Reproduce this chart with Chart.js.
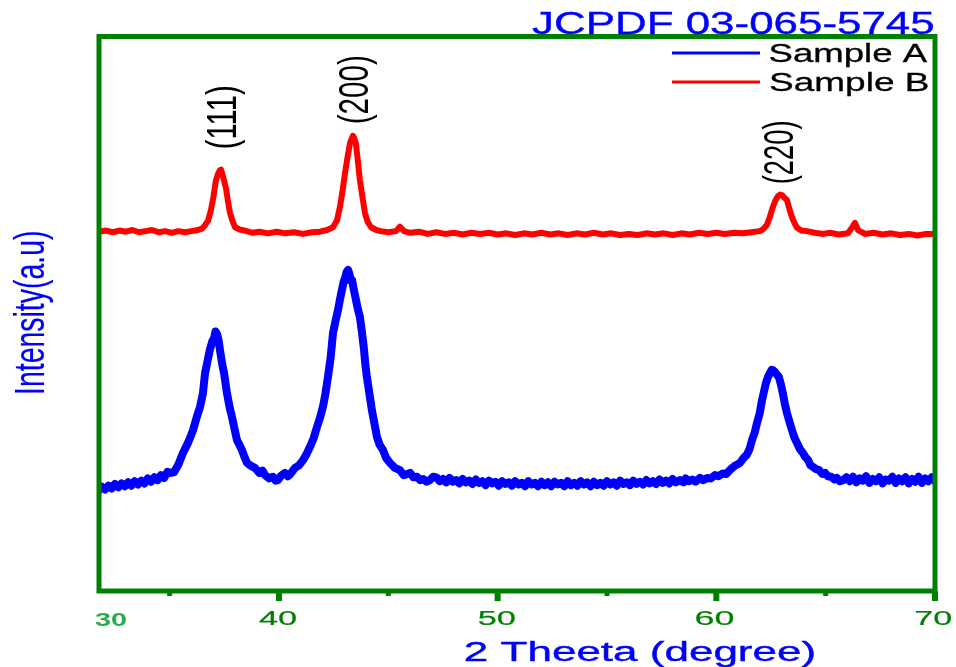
<!DOCTYPE html>
<html>
<head>
<meta charset="utf-8">
<script src="https://cdn.jsdelivr.net/npm/chart.js@4.4.1/dist/chart.umd.min.js"></script>
<style>
  body { margin: 0; background: #fff; }
  canvas { display: block; }
</style>
</head>
<body>
<canvas id="xrd" width="956" height="667"></canvas>
<script>
// [2 theta (degree), intensity (a.u.)]
var sampleA = [
  [31.77,18.2],[31.9,18.8],[32.05,18.3],[32.2,19.0],[32.35,18.5],[32.5,19.3],[32.65,18.7],[32.8,19.4],
  [32.95,18.9],[33.1,19.6],[33.25,19.0],[33.4,19.8],[33.55,19.2],[33.7,19.9],[33.85,19.4],[34.0,20.3],
  [34.15,19.7],[34.3,20.5],[34.45,20.0],[34.6,20.9],[34.75,20.4],[34.9,21.5],[35.05,21.3],[35.2,21.4],
  [35.4,22.8],[35.61,24.9],[35.85,26.8],[36.07,29.0],[36.25,31.5],[36.39,33.2],[36.52,35.6],[36.62,39.3],
  [36.75,41.8],[36.84,43.5],[36.95,45.0],[37.03,45.6],[37.10,46.8],[37.17,46.3],[37.24,45.2],[37.30,43.5],
  [37.40,41.0],[37.49,39.3],[37.62,35.7],[37.75,33.0],[37.85,31.4],[37.97,29.2],[38.08,27.2],[38.2,26.3],
  [38.31,25.4],[38.42,24.2],[38.54,23.1],[38.7,22.6],[38.9,22.2],[39.1,21.3],[39.25,21.7],[39.36,20.9],
  [39.55,20.3],[39.73,20.6],[39.85,19.9],[39.95,20.0],[40.1,20.8],[40.27,21.3],[40.4,20.7],[40.5,21.0],
  [40.73,22.2],[40.9,22.6],[41.10,23.6],[41.25,24.6],[41.42,26.0],[41.58,27.5],[41.74,29.6],[41.88,31.3],
  [42.01,33.2],[42.12,35.5],[42.24,38.6],[42.36,42.0],[42.47,46.5],[42.58,48.6],[42.70,50.7],[42.80,52.8],
  [42.88,54.3],[42.96,55.8],[43.02,56.4],[43.10,57.6],[43.16,57.9],[43.22,57.2],[43.28,56.0],[43.34,56.1],
  [43.43,54.2],[43.52,52.5],[43.61,50.8],[43.70,49.4],[43.80,46.5],[43.89,43.5],[43.95,40.8],[44.02,38.6],
  [44.12,36.0],[44.25,32.6],[44.36,30.3],[44.48,27.8],[44.6,26.4],[44.76,25.4],[44.9,24.0],[45.08,23.1],
  [45.3,22.2],[45.53,21.8],[45.7,20.9],[45.8,21.0],[46.0,21.3],[46.15,20.5],[46.31,20.6],[46.45,20.0],
  [46.6,20.2],[46.75,19.7],[46.90,20.0],[47.05,20.6],
  [47.2,20.5],[47.35,19.8],[47.5,20.2],[47.65,19.6],[47.8,20.4],[47.95,19.7],[48.1,20.0],[48.25,19.4],
  [48.4,20.2],[48.55,19.6],[48.7,19.9],[48.85,19.3],[49.0,20.1],[49.15,19.5],[49.3,19.8],[49.45,19.1],
  [49.6,19.9],[49.75,19.4],[49.9,19.7],[50.05,19.0],[50.2,19.8],[50.35,19.3],[50.5,19.6],[50.65,19.0],
  [50.8,19.8],[50.95,19.2],[51.1,19.5],[51.25,18.9],[51.4,19.8],[51.55,19.2],[51.7,19.5],[51.85,18.9],
  [52.0,19.7],[52.15,19.1],[52.3,19.6],[52.45,18.9],[52.6,19.7],[52.75,19.2],[52.9,19.5],[53.05,18.9],
  [53.2,19.8],[53.35,19.1],[53.5,19.5],[53.65,19.0],[53.8,19.8],[53.95,19.2],[54.1,19.6],[54.25,18.9],
  [54.4,19.7],[54.55,19.1],[54.7,19.5],[54.85,19.0],[55.0,19.8],[55.15,19.2],[55.3,19.6],[55.45,19.0],
  [55.6,19.9],[55.75,19.3],[55.9,19.6],[56.05,19.1],[56.2,19.9],[56.35,19.3],[56.5,19.7],[56.65,19.2],
  [56.8,20.0],[56.95,19.4],[57.1,19.8],[57.25,19.3],[57.4,20.1],[57.55,19.5],[57.7,19.9],[57.85,19.4],
  [58.0,20.2],[58.15,19.6],[58.34,20.0],[58.5,19.6],[58.6,20.3],[58.75,19.8],[58.9,20.1],[59.05,19.7],
  [59.25,20.4],[59.4,20.0],[59.6,20.4],[59.75,20.3],[59.94,20.9],[60.1,20.7],[60.3,21.2],[60.45,21.1],
  [60.62,21.8],[60.85,22.6],[61.08,23.1],[61.25,24.0],[61.40,24.6],[61.52,25.6],[61.63,27.2],[61.75,28.5],
  [61.86,30.3],[61.98,32.0],[62.09,34.4],[62.18,36.0],[62.27,37.5],[62.36,38.6],[62.45,39.3],[62.53,39.9],
  [62.6,39.8],[62.68,39.5],[62.77,39.0],[62.86,38.6],[62.95,37.3],[63.04,35.7],[63.13,33.8],[63.23,32.1],
  [63.34,30.6],[63.46,29.0],[63.58,27.6],[63.69,26.7],[63.82,25.6],[63.96,24.9],[64.08,24.1],[64.2,23.6],
  [64.3,22.7],[64.42,22.4],[64.55,22.0],[64.7,21.8],[64.85,21.1],[64.97,21.3],[65.1,20.7],[65.25,20.6],
  [65.4,20.1],[65.51,20.4],[65.65,19.8],[65.8,20.0],[65.95,20.5],[66.1,19.8],[66.25,20.6],[66.4,19.6],
  [66.55,20.3],[66.7,19.9],[66.85,20.7],[67.0,19.5],[67.15,20.2],[67.3,19.8],[67.45,20.5],[67.6,19.4],
  [67.75,20.1],[67.9,19.9],[68.05,20.6],[68.2,19.5],[68.35,20.3],[68.5,19.8],[68.65,20.5],[68.8,19.4],
  [68.95,20.2],[69.1,19.7],[69.25,20.6],[69.4,19.5],[69.55,20.3],[69.7,19.8],[69.85,20.5],[70.0,19.8]
];

var sampleB = [
  [31.77,64.8],[32.1,65.0],[32.4,64.7],[32.7,65.0],[33.0,64.8],[33.3,65.1],[33.6,64.7],[33.9,64.9],
  [34.2,65.1],[34.5,64.7],[34.8,64.9],[35.1,64.6],[35.4,64.9],[35.7,64.7],[36.0,64.9],[36.3,65.1],
  [36.5,65.4],[36.62,66.0],[36.76,66.8],[36.89,68.7],[37.00,71.0],[37.12,74.1],[37.22,75.3],[37.30,75.9],
  [37.35,76.0],[37.44,74.8],[37.58,72.6],[37.66,70.5],[37.76,68.2],[37.87,66.8],[37.99,65.6],[38.2,65.2],
  [38.45,65.0],[38.8,64.6],[39.1,64.8],[39.5,64.5],[39.9,64.8],[40.3,64.5],[40.7,64.7],[41.1,64.4],
  [41.5,64.7],[41.87,64.8],[42.2,65.1],[42.47,65.6],[42.65,66.8],[42.79,69.3],[42.92,72.5],[43.02,75.4],
  [43.14,78.3],[43.25,80.8],[43.38,82.1],[43.45,81.6],[43.52,80.6],[43.61,77.5],[43.70,74.1],[43.80,71.5],
  [43.93,68.2],[44.05,66.6],[44.21,65.6],[44.45,65.1],[44.66,64.9],[45.0,64.7],[45.35,64.9],[45.53,65.7],
  [45.72,64.9],[46.0,64.6],[46.4,64.8],[46.8,64.4],[47.2,64.7],[47.6,64.4],[48.0,64.6],[48.4,64.3],
  [48.8,64.6],[49.2,64.4],[49.6,64.6],[50.0,64.3],[50.4,64.5],[50.8,64.2],[51.2,64.5],[51.6,64.3],
  [52.0,64.6],[52.4,64.3],[52.8,64.5],[53.2,64.2],[53.6,64.5],[54.0,64.3],[54.4,64.6],[54.8,64.3],
  [55.2,64.5],[55.6,64.2],[56.0,64.4],[56.4,64.2],[56.8,64.5],[57.2,64.3],[57.6,64.5],[58.0,64.2],
  [58.4,64.5],[58.8,64.3],[59.2,64.6],[59.6,64.4],[60.0,64.6],[60.4,64.4],[60.8,64.6],[61.2,64.5],
  [61.6,64.7],[61.99,64.9],[62.15,65.3],[62.31,66.0],[62.45,67.5],[62.59,69.3],[62.72,70.6],[62.82,71.2],
  [62.92,71.5],[63.00,71.4],[63.12,70.9],[63.23,70.5],[63.35,68.8],[63.46,67.4],[63.58,66.3],[63.69,65.5],
  [63.9,65.0],[64.14,64.9],[64.5,64.6],[64.9,64.4],[65.19,64.6],[65.6,64.3],[66.02,64.5],[66.20,65.5],
  [66.34,66.4],[66.48,65.1],[66.8,64.4],[67.2,64.6],[67.6,64.3],[68.0,64.5],[68.4,64.2],[68.8,64.4],
  [69.2,64.1],[69.6,64.4],[70.0,64.4]
];

var seriesNames = ['Sample A', 'Sample B'];
var majorTicks = [40, 50, 60, 70];
var minorTicks = [35, 45, 55, 65];
var peakLabels = ['(111)', '(200)', '(220)'];
var refCard = 'JCPDF 03-065-5745';

function pts(arr) {
  return arr.map(function (p) { return { x: p[0], y: p[1] }; });
}

// draw text stretched into a given ink box (w along the text, h across it)
function fitText(ctx, txt, font, color, cx, cy, w, h, rot, heavy) {
  ctx.save();
  ctx.font = font;
  ctx.textAlign = 'left';
  ctx.textBaseline = 'alphabetic';
  var m = ctx.measureText(txt);
  var tw = m.actualBoundingBoxLeft + m.actualBoundingBoxRight;
  var th = m.actualBoundingBoxAscent + m.actualBoundingBoxDescent;
  ctx.translate(cx, cy);
  ctx.rotate(rot || 0);
  ctx.scale(w / tw, h / th);
  ctx.fillStyle = color;
  var tx = -tw / 2 + m.actualBoundingBoxLeft, ty = th / 2 - m.actualBoundingBoxDescent;
  ctx.fillText(txt, tx, ty);
  if (heavy) {
    ctx.strokeStyle = color;
    ctx.lineWidth = heavy;
    ctx.strokeText(txt, tx, ty);
  }
  ctx.restore();
}

var GREEN = '#008000';

var frame = {
  id: 'frame',
  afterDatasetsDraw: function (chart) {
    var ctx = chart.ctx, a = chart.chartArea, xs = chart.scales.x;
    ctx.save();
    ctx.strokeStyle = GREEN;
    ctx.lineWidth = 6;
    majorTicks.forEach(function (v) {
      var px = xs.getPixelForValue(v);
      ctx.beginPath(); ctx.moveTo(px, a.bottom); ctx.lineTo(px, a.bottom + 10); ctx.stroke();
    });
    ctx.lineWidth = 5;
    minorTicks.forEach(function (v) {
      var px = xs.getPixelForValue(v);
      ctx.beginPath(); ctx.moveTo(px, a.bottom); ctx.lineTo(px, a.bottom + 5); ctx.stroke();
    });
    ctx.lineWidth = 5;
    ctx.strokeRect(a.left, a.top, a.right - a.left, a.bottom - a.top);
    ctx.restore();

    // tick labels
    majorTicks.forEach(function (v) {
      var px = xs.getPixelForValue(v);
      fitText(ctx, String(v), '20px "Liberation Sans"', GREEN, px - 1, 618, v === 70 ? 36 : 38, 14, 0, 0.2);
    });
    fitText(ctx, '30', 'bold 18px "Liberation Sans"', '#27ae4a', 111, 619.5, 32, 13);

    // axis titles
    fitText(ctx, '2 Theeta (degree)', '27px "Liberation Sans"', '#0000ff', 640, 654, 349, 26, 0, 0.4);
    fitText(ctx, 'Intensity(a.u)', '43px "Liberation Sans"', '#0000ff', 33, 312.5, 161, 40, -Math.PI / 2, 0.2);

    fitText(ctx, refCard, '29px "Liberation Sans"', '#0000ff', 732.5, 23.5, 401, 21, 0, 0.35);

    // legend
    ctx.save();
    ctx.lineWidth = 3;
    ctx.strokeStyle = '#0000ff';
    ctx.beginPath(); ctx.moveTo(672, 53); ctx.lineTo(760, 53); ctx.stroke();
    ctx.strokeStyle = '#ff0000';
    ctx.beginPath(); ctx.moveTo(672, 82); ctx.lineTo(760, 82); ctx.stroke();
    ctx.restore();
    fitText(ctx, seriesNames[0], '26px "Liberation Sans"', '#000', 849, 55, 158, 24, 0, 0.3);
    fitText(ctx, seriesNames[1], '26px "Liberation Sans"', '#000', 849, 84, 157, 24, 0, 0.3);

    // hkl labels
    fitText(ctx, peakLabels[0], '44px "Liberation Sans"', '#000', 225, 117.5, 61, 40, -Math.PI / 2);
    fitText(ctx, peakLabels[1], '44px "Liberation Sans"', '#000', 357, 90, 66, 40, -Math.PI / 2);
    fitText(ctx, peakLabels[2], '44px "Liberation Sans"', '#000', 782, 152.5, 61, 40, -Math.PI / 2);
  }
};

new Chart(document.getElementById('xrd'), {
  type: 'line',
  data: {
    datasets: [
      {
        label: seriesNames[0],
        data: pts(sampleA),
        borderColor: '#0000ff',
        borderWidth: 8,
        pointRadius: 0,
        tension: 0,
        borderCapStyle: 'round',
        borderJoinStyle: 'round'
      },
      {
        label: seriesNames[1],
        data: pts(sampleB),
        borderColor: '#ff0000',
        borderWidth: 6,
        pointRadius: 0,
        tension: 0,
        borderCapStyle: 'round',
        borderJoinStyle: 'round'
      }
    ]
  },
  options: {
    responsive: false,
    animation: false,
    layout: { padding: { left: 99, right: 21, top: 36.5, bottom: 76 } },
    scales: {
      x: { type: 'linear', min: 31.77, max: 70, display: false },
      y: { min: 0, max: 100, display: false }
    },
    plugins: {
      legend: { display: false },
      tooltip: { enabled: false }
    }
  },
  plugins: [frame]
});
</script>
</body>
</html>
